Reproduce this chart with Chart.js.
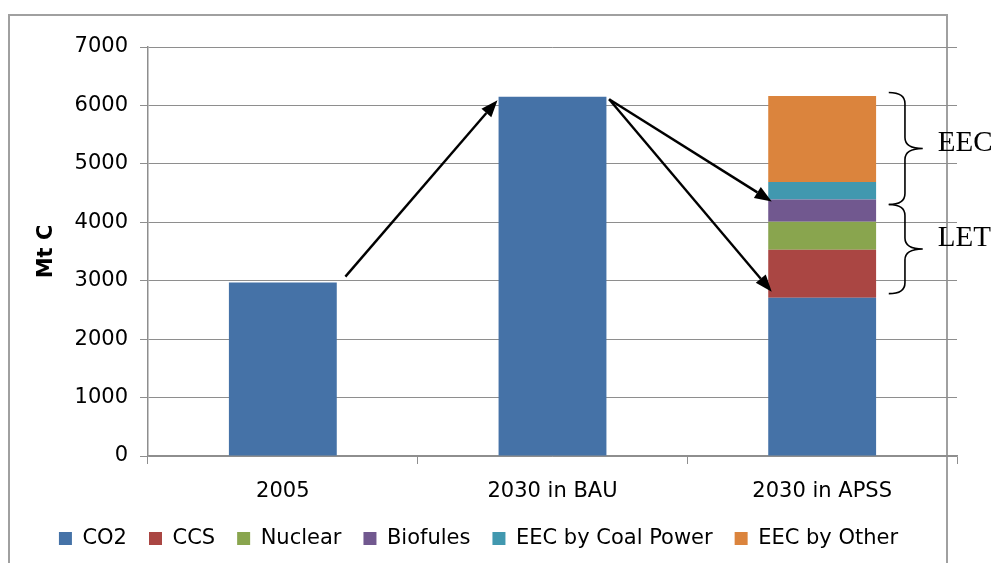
<!DOCTYPE html>
<html>
<head>
<meta charset="utf-8">
<script src="https://cdn.jsdelivr.net/npm/chart.js@4.4.1/dist/chart.umd.min.js"></script>
<style>
  html, body { margin: 0; padding: 0; background: #ffffff; }
  #wrap { width: 999px; height: 563px; position: relative; }
</style>
</head>
<body>
<div id="wrap"><canvas id="c" width="999" height="563"></canvas></div>
<script>
// ---- Data ----
const categories = ['2005', '2030 in BAU', '2030 in APSS'];
const co2      = [2970, 6150, 2710];
const ccs      = [0, 0, 820];
const nuclear  = [0, 0, 480];
const biofules = [0, 0, 380];
const eecCoal  = [0, 0, 300];
const eecOther = [0, 0, 1470];
const seriesNames = ['CO2', 'CCS', 'Nuclear', 'Biofules', 'EEC by Coal Power', 'EEC by Other'];
const yTicks = [0, 1000, 2000, 3000, 4000, 5000, 6000, 7000];

// Annotation anchors: [category index, offset in category widths, value]
const arrowFrom = [[0, 0.232, 3070], [1, 0.21, 6105], [1, 0.21, 6105]];
const arrowTo   = [[1, -0.204, 6090], [2, -0.187, 4357], [2, -0.187, 2813]];
const braceNames = ['EEC', 'LET'];
const braceTop    = [6220, 4305];
const braceBottom = [4305, 2779];
const braceLabelBase = [5220, 3591];

const colors = ['#4572A7', '#AA4643', '#89A54E', '#71588F', '#4198AF', '#DB843D'];
const seriesData = [co2, ccs, nuclear, biofules, eecCoal, eecOther];

const frame = {
  id: 'frame',
  beforeDraw(chart) {
    const ctx = chart.ctx;
    ctx.save();
    ctx.strokeStyle = '#a0a0a0';
    ctx.lineWidth = 2;
    ctx.strokeRect(9, 15, 938, 620);
    ctx.restore();
  }
};

const annot = {
  id: 'annot',
  afterDatasetsDraw(chart) {
    const ctx = chart.ctx;
    const xs = chart.scales.x, ys = chart.scales.y;
    const step = xs.getPixelForValue(1) - xs.getPixelForValue(0);
    const px = (i, off) => xs.getPixelForValue(i) + off * step;
    ctx.save();
    ctx.strokeStyle = '#000';
    ctx.fillStyle = '#000';
    for (let k = 0; k < arrowFrom.length; k++) {
      const a = arrowFrom[k], b = arrowTo[k];
      const x1 = px(a[0], a[1]), y1 = ys.getPixelForValue(a[2]);
      const x2 = px(b[0], b[1]), y2 = ys.getPixelForValue(b[2]);
      const ang = Math.atan2(y2 - y1, x2 - x1);
      const hl = 17, hw = 6.5;
      const bx = x2 - hl * Math.cos(ang), by = y2 - hl * Math.sin(ang);
      ctx.lineWidth = 2.4;
      ctx.beginPath();
      ctx.moveTo(x1, y1);
      ctx.lineTo(bx, by);
      ctx.stroke();
      ctx.beginPath();
      ctx.moveTo(x2, y2);
      ctx.lineTo(bx + hw * Math.sin(ang), by - hw * Math.cos(ang));
      ctx.lineTo(bx - hw * Math.sin(ang), by + hw * Math.cos(ang));
      ctx.closePath();
      ctx.fill();
    }
    const x0 = px(2, 0.247), xm = px(2, 0.307), x1 = px(2, 0.373);
    const r = 11;
    ctx.lineWidth = 1.6;
    for (let k = 0; k < braceNames.length; k++) {
      const yt = ys.getPixelForValue(braceTop[k]);
      const yb = ys.getPixelForValue(braceBottom[k]);
      const mid = (yt + yb) / 2;
      ctx.beginPath();
      ctx.moveTo(x0, yt);
      ctx.quadraticCurveTo(xm, yt, xm, yt + r);
      ctx.lineTo(xm, mid - r);
      ctx.quadraticCurveTo(xm, mid, x1, mid);
      ctx.quadraticCurveTo(xm, mid, xm, mid + r);
      ctx.lineTo(xm, yb - r);
      ctx.quadraticCurveTo(xm, yb, x0, yb);
      ctx.stroke();
      ctx.font = '29px "Liberation Serif"';
      ctx.textAlign = 'left';
      ctx.textBaseline = 'alphabetic';
      ctx.fillText(braceNames[k], px(2, 0.429), ys.getPixelForValue(braceLabelBase[k]));
    }
    ctx.restore();
  }
};

const gridColor = '#8e8e8e';
const font = 'DejaVu Sans';

new Chart(document.getElementById('c'), {
  type: 'bar',
  data: {
    labels: categories,
    datasets: seriesNames.map((n, i) => ({
      label: n,
      data: seriesData[i],
      backgroundColor: colors[i],
      borderWidth: 0,
      categoryPercentage: 1,
      barPercentage: 0.40
    }))
  },
  options: {
    responsive: false,
    animation: false,
    devicePixelRatio: 1,
    layout: { padding: { top: 47, right: 42, left: 0, bottom: 4 } },
    plugins: {
      legend: {
        position: 'bottom',
        labels: {
          boxWidth: 13, boxHeight: 13,
          font: { family: font, size: 21 },
          color: '#000',
          padding: 22
        }
      },
      tooltip: { enabled: false }
    },
    scales: {
      x: {
        stacked: true,
        grid: { drawOnChartArea: false, color: gridColor, tickLength: 8, offset: true },
        border: { color: gridColor, width: 1.5 },
        ticks: { font: { family: font, size: 21 }, color: '#000', padding: 15 },
        afterFit(s) { s.height = 50; }
      },
      y: {
        stacked: true,
        min: 0, max: 7000,
        afterBuildTicks(s) { s.ticks = yTicks.map(v => ({ value: v })); },
        grid: { color: gridColor, tickLength: 8 },
        border: { color: gridColor, width: 1.5 },
        ticks: {
          font: { family: font, size: 21 }, color: '#000', padding: 12,
          callback: (v) => String(v)
        },
        title: {
          display: true, text: 'Mt C', color: '#000',
          font: { family: font, size: 21, weight: 'bold' },
          padding: { top: 34, bottom: 0 }
        },
        afterFit(s) { s.width = 148; }
      }
    }
  },
  plugins: [frame, annot]
});
</script>
</body>
</html>
